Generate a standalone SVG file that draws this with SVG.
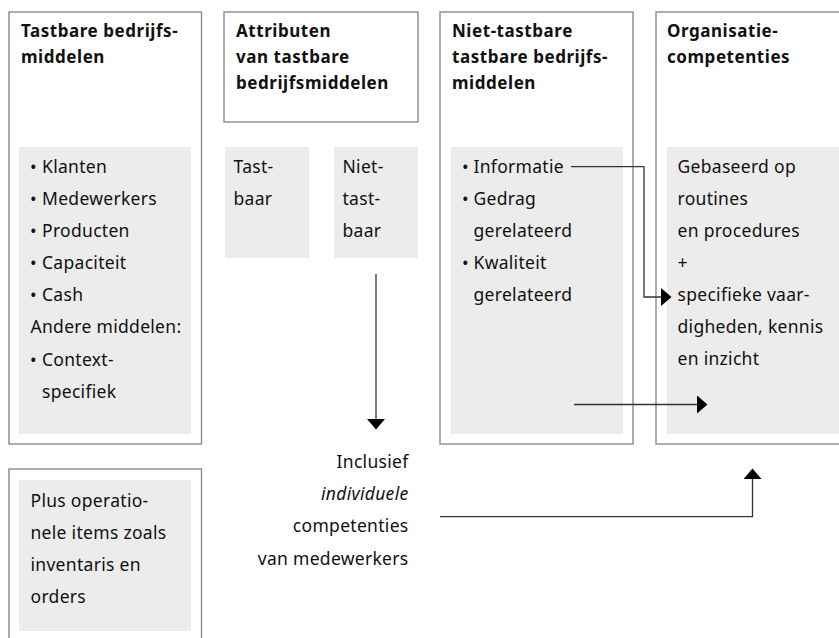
<svg xmlns="http://www.w3.org/2000/svg" width="839" height="638" viewBox="0 0 839 638">
<style>
  .box { fill: #ffffff; stroke: #8a8a8a; stroke-width: 1.4; }
  .panel { fill: #ececec; stroke: none; }
  .hd { font-family: "Noto Sans", "Open Sans", sans-serif; font-weight: bold; font-size: 17px; letter-spacing: 0.55px; fill: #111; }
  .tx { font-family: "Noto Sans", "Open Sans", sans-serif; font-size: 17.5px; letter-spacing: 0.3px; fill: #111; }
  .it { font-style: italic; }
  .con { fill: none; stroke: #333; stroke-width: 1.3; }
</style>
<defs>
  <marker id="ah" markerUnits="userSpaceOnUse" markerWidth="11" markerHeight="18" refX="0" refY="9" orient="auto" viewBox="0 0 11 18">
    <path d="M0,0 L10.5,9 L0,18 Z" fill="#000"/>
  </marker>
</defs>
<rect x="0" y="0" width="839" height="638" fill="#ffffff"/>

<g id="tastbare">
  <rect class="box" x="9" y="12" width="192.5" height="432"/>
  <rect class="panel" x="19" y="147" width="172" height="287"/>
  <text class="hd" x="21" y="37">Tastbare bedrijfs-</text>
  <text class="hd" x="21" y="63">middelen</text>
  <text class="tx" x="30" y="173">•<tspan x="42">Klanten</tspan></text>
  <text class="tx" x="30" y="205">•<tspan x="42">Medewerkers</tspan></text>
  <text class="tx" x="30" y="237">•<tspan x="42">Producten</tspan></text>
  <text class="tx" x="30" y="269">•<tspan x="42">Capaciteit</tspan></text>
  <text class="tx" x="30" y="301">•<tspan x="42">Cash</tspan></text>
  <text class="tx" x="30.5" y="333">Andere middelen:</text>
  <text class="tx" x="30" y="365.5">•<tspan x="42">Context-</tspan></text>
  <text class="tx" x="42" y="397.5">specifiek</text>
</g>

<g id="attributen">
  <rect class="box" x="224" y="12" width="194" height="110"/>
  <text class="hd" x="236" y="37">Attributen</text>
  <text class="hd" x="236" y="63">van tastbare</text>
  <text class="hd" x="236" y="89">bedrijfsmiddelen</text>
</g>

<g id="tastbaar">
  <rect class="panel" x="225" y="147" width="84" height="111"/>
  <text class="tx" x="233.5" y="173">Tast-</text>
  <text class="tx" x="233.5" y="205">baar</text>
</g>

<g id="niet-tastbaar">
  <rect class="panel" x="334" y="147" width="84" height="111"/>
  <text class="tx" x="342.5" y="173">Niet-</text>
  <text class="tx" x="342.5" y="205">tast-</text>
  <text class="tx" x="342.5" y="237">baar</text>
</g>

<g id="niet-tastbare">
  <rect class="box" x="440" y="12" width="193" height="432"/>
  <rect class="panel" x="451" y="147" width="172" height="287"/>
  <text class="hd" x="452" y="37">Niet-tastbare</text>
  <text class="hd" x="452" y="63">tastbare bedrijfs-</text>
  <text class="hd" x="452" y="89">middelen</text>
  <text class="tx" x="462" y="173">•<tspan x="473.5">Informatie</tspan></text>
  <text class="tx" x="462" y="205">•<tspan x="473.5">Gedrag</tspan></text>
  <text class="tx" x="473.5" y="237">gerelateerd</text>
  <text class="tx" x="462" y="269">•<tspan x="473.5">Kwaliteit</tspan></text>
  <text class="tx" x="473.5" y="301">gerelateerd</text>
</g>

<g id="organisatie">
  <rect class="box" x="656" y="12" width="200" height="432"/>
  <rect class="panel" x="667" y="147" width="190" height="287"/>
  <text class="hd" x="667" y="37">Organisatie-</text>
  <text class="hd" x="667" y="63">competenties</text>
  <text class="tx" x="677.5" y="173">Gebaseerd op</text>
  <text class="tx" x="677.5" y="205">routines</text>
  <text class="tx" x="677.5" y="237">en procedures</text>
  <text class="tx" x="677.5" y="269">+</text>
  <text class="tx" x="677.5" y="301">specifieke vaar-</text>
  <text class="tx" x="677.5" y="333">digheden, kennis</text>
  <text class="tx" x="677.5" y="365">en inzicht</text>
</g>

<g id="operationeel">
  <rect class="box" x="9" y="469" width="192.5" height="200"/>
  <rect class="panel" x="19" y="480" width="172" height="151"/>
  <text class="tx" x="30.5" y="507">Plus operatio-</text>
  <text class="tx" x="30.5" y="539">nele items zoals</text>
  <text class="tx" x="30.5" y="571">inventaris en</text>
  <text class="tx" x="30.5" y="603">orders</text>
</g>

<g id="individueel">
  <text class="tx" x="408.5" y="468" text-anchor="end">Inclusief</text>
  <text class="tx it" x="408.5" y="500" text-anchor="end">individuele</text>
  <text class="tx" x="408.5" y="532" text-anchor="end">competenties</text>
  <text class="tx" x="408.5" y="565" text-anchor="end">van medewerkers</text>
</g>

<g id="connectors">
  <path class="con" d="M571,166.7 H644 V297 H661" marker-end="url(#ah)"/>
  <path class="con" d="M376,274 V419" marker-end="url(#ah)"/>
  <path class="con" d="M574,404.5 H697" marker-end="url(#ah)"/>
  <path class="con" d="M440,516.7 H752.5 V479" marker-end="url(#ah)"/>
</g>
</svg>
